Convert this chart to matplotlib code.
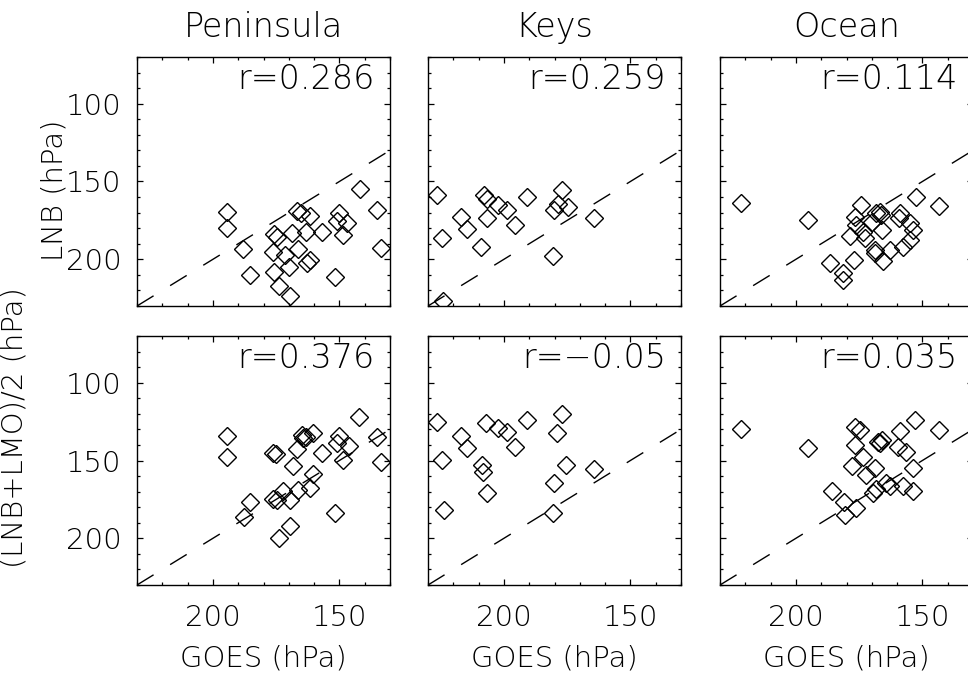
import matplotlib
matplotlib.use("Agg")
import matplotlib.pyplot as plt
from matplotlib.ticker import MultipleLocator, FixedLocator

plt.rcParams['font.family'] = ['DejaVu Sans']
plt.rcParams['font.weight'] = 200

regions = ["Peninsula", "Keys", "Ocean"]
row_labels = ["LNB (hPa)", "(LNB+LMO)/2 (hPa)"]
r_labels = [["r=0.286", "r=0.259", "r=0.114"],
            ["r=0.376", "r=\u22120.05", "r=0.035"]]
x_ticks = [200, 150]
y_ticks = [100, 150, 200]
x_limits = [230, 130]
y_limits = [230, 70]

# Top row: GOES vs LNB
pen_goes_top = [194.5, 194.5, 188.2, 185.3, 175.8, 174.7, 176.1, 171.4, 168.8, 166.8,
                165.3, 161.6, 163.3, 166.2, 170.1, 175.8, 173.7, 169.7, 162.9, 161.6,
                157.0, 150.0, 150.8, 147.1, 148.4, 151.7, 141.8, 135.3, 133.7]
pen_lnb = [169.5, 179.7, 193.6, 210.1, 184.0, 185.5, 195.1, 197.3, 183.4, 169.0,
           170.5, 172.0, 182.3, 193.6, 204.8, 208.0, 217.0, 223.4, 202.6, 200.5,
           182.7, 170.5, 175.2, 176.9, 184.4, 211.2, 154.9, 168.4, 193.0]

keys_goes_top = [226.4, 224.4, 224.0, 216.8, 214.5, 209.1, 207.9, 206.8, 206.8, 202.2,
                 198.9, 195.6, 190.9, 180.7, 180.1, 178.7, 177.0, 174.8, 164.4]
keys_lnb = [158.8, 186.1, 226.6, 172.7, 180.6, 191.9, 158.8, 161.3, 173.7, 165.2,
            168.0, 178.0, 159.8, 197.9, 168.4, 164.5, 155.6, 166.3, 173.7]

ocean_goes_top = [221.8, 195.1, 186.6, 181.3, 181.3, 177.0, 174.1, 176.7, 176.1, 178.7,
                  173.4, 172.8, 168.9, 168.9, 168.2, 166.8, 166.2, 170.1, 165.8, 162.9,
                  165.5, 158.9, 159.2, 155.0, 153.7, 155.0, 157.6, 152.4, 143.4]
ocean_lnb = [164.1, 174.8, 202.6, 208.6, 213.3, 200.5, 165.2, 172.7, 178.0, 185.1,
             182.3, 186.6, 194.1, 196.2, 170.5, 169.5, 171.6, 175.9, 181.2, 194.1,
             200.9, 170.5, 173.7, 176.9, 181.2, 187.6, 191.9, 159.8, 165.8]

# Bottom row: GOES vs (LNB+LMO)/2
pen_goes_bot = [194.5, 194.5, 185.3, 187.9, 176.3, 175.0, 176.1, 174.7, 172.1, 169.7,
                168.4, 166.8, 164.9, 164.2, 163.3, 160.5, 166.2, 161.6, 160.5, 169.7,
                173.8, 157.0, 150.0, 150.8, 146.4, 148.4, 151.7, 142.1, 135.0, 133.7]
pen_mean = [134.2, 147.5, 176.4, 186.1, 145.4, 145.8, 174.7, 175.4, 169.6, 175.4,
            153.3, 142.6, 133.6, 135.7, 134.7, 132.5, 168.9, 167.9, 158.9, 192.1,
            200.0, 144.9, 134.2, 138.5, 140.4, 149.7, 183.9, 121.8, 135.1, 150.7]

keys_goes_bot = [226.3, 224.3, 223.6, 216.8, 214.5, 208.5, 208.1, 206.8, 207.1, 202.2,
                 198.9, 195.6, 190.9, 179.0, 177.0, 180.1, 180.6, 175.3, 164.4]
keys_mean = [125.0, 149.7, 181.8, 134.2, 142.2, 152.9, 157.2, 170.6, 126.1, 129.3,
             131.5, 141.1, 124.0, 132.5, 120.1, 164.6, 183.9, 152.9, 155.7]

ocean_goes_bot = [221.8, 195.1, 185.9, 181.1, 180.7, 176.3, 176.7, 174.7, 176.7, 178.0,
                  173.4, 172.1, 168.9, 167.6, 166.7, 165.8, 169.5, 168.2, 164.2, 162.9,
                  159.6, 158.9, 156.3, 153.9, 157.6, 153.7, 153.0, 143.4]
ocean_mean = [130.0, 142.2, 169.4, 176.4, 185.0, 180.7, 128.2, 130.4, 140.0, 153.5,
              147.5, 159.3, 155.0, 137.9, 139.0, 136.8, 170.6, 168.5, 164.6, 166.7,
              141.1, 130.8, 144.3, 155.0, 166.7, 169.4, 124.1, 130.1]

panels = [[(pen_goes_top, pen_lnb), (keys_goes_top, keys_lnb), (ocean_goes_top, ocean_lnb)],
          [(pen_goes_bot, pen_mean), (keys_goes_bot, keys_mean), (ocean_goes_bot, ocean_mean)]]

W, H = 968, 677
fig = plt.figure(figsize=(W / 100, H / 100), dpi=100)

col_left = [137, 428, 720]
ax_w = 253
row_top = [57, 336]
ax_h = 249
FS = 21

for r in range(2):
    for c in range(3):
        l = col_left[c] / W
        b = 1 - (row_top[r] + ax_h) / H
        ax = fig.add_axes([l, b, ax_w / W, ax_h / H])
        gx, gy = panels[r][c]
        ax.plot(x_limits, x_limits, color='black', lw=1.0, ls=(0, (14, 14)))
        ax.plot(gx, gy, ls='none', marker='D', ms=8.8, mfc='none', mec='black', mew=1.0)
        ax.set_xlim(x_limits)
        ax.set_ylim(y_limits)
        ax.xaxis.set_major_locator(FixedLocator(x_ticks))
        ax.xaxis.set_minor_locator(MultipleLocator(10))
        ax.yaxis.set_major_locator(FixedLocator(y_ticks))
        ax.yaxis.set_minor_locator(MultipleLocator(10))
        ax.tick_params(which='both', direction='in', top=True, right=True, width=0.9)
        ax.tick_params(which='major', length=4.5, labelsize=FS)
        ax.tick_params(axis='x', which='major', pad=14)
        ax.tick_params(axis='y', which='major', pad=11)
        ax.tick_params(which='minor', length=2.5)
        for s in ax.spines.values():
            s.set_linewidth(1.0)
        if r == 0:
            ax.tick_params(labelbottom=False)
        if c > 0:
            ax.tick_params(labelleft=False)
        ax.text(0.94, 0.871, r_labels[r][c], transform=ax.transAxes,
                ha='right', va='baseline', fontsize=24)
        if r == 0:
            fig.text((col_left[c] + ax_w / 2) / W, 1 - 37 / H, regions[c],
                     ha='center', va='baseline', fontsize=24)
        else:
            fig.text((col_left[c] + ax_w / 2) / W, 1 - 667 / H, "GOES (hPa)",
                     ha='center', va='baseline', fontsize=FS)

fig.text(55 / W, 1 - 190 / H, row_labels[0], rotation=90, ha='center', va='center', fontsize=FS)
fig.text(15 / W, 1 - 428 / H, row_labels[1], rotation=90, ha='center', va='center', fontsize=FS)

fig.savefig("out.png", dpi=100)
